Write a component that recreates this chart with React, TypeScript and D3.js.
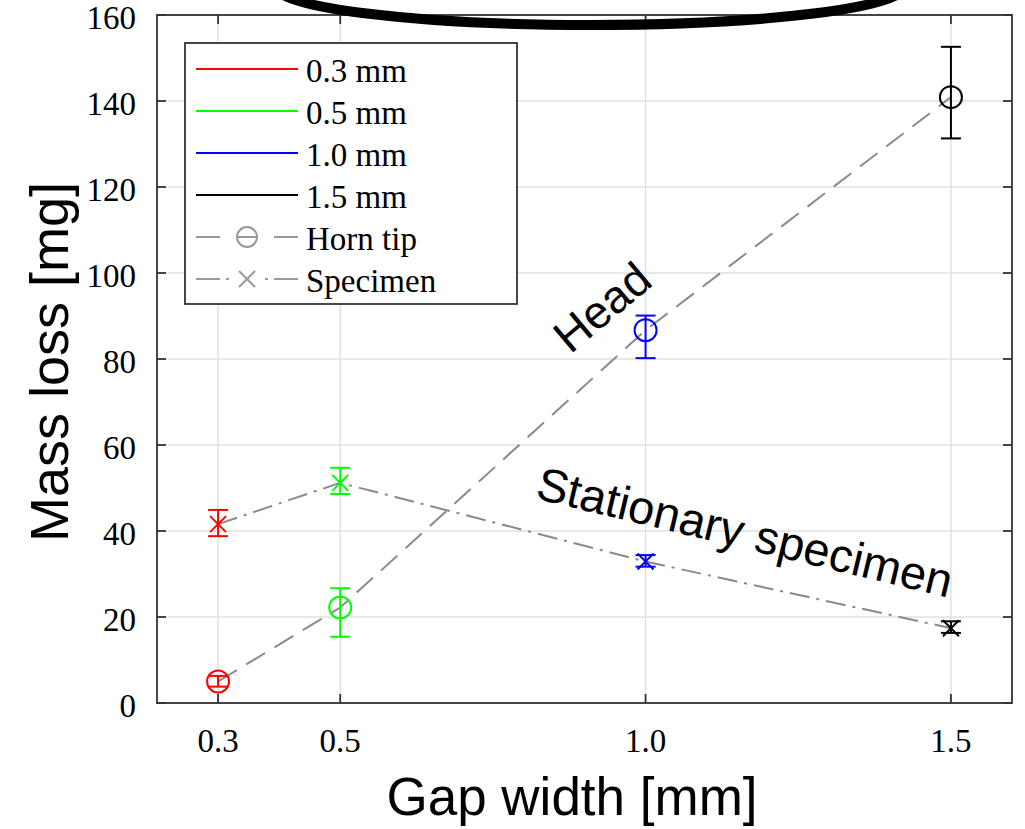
import React from 'react'
import * as d3 from 'd3'

// gap widths and the colour used for each one
const gaps = [0.3, 0.5, 1.0, 1.5]
const gapLabels = ['0.3', '0.5', '1.0', '1.5']
const gapColors = ['#ff0000', '#00ff00', '#0000ff', '#000000']

// horn tip (circles, dashed line)
const hornMean = [5.0, 22.2, 86.7, 140.9]
const hornLow = [3.8, 15.4, 80.2, 131.3]
const hornHigh = [6.3, 26.7, 90.1, 152.6]

// specimen (crosses, dash-dot line)
const specMean = [41.6, 51.2, 32.9, 17.4]
const specLow = [38.8, 48.6, 31.7, 16.3]
const specHigh = [44.9, 54.7, 34.4, 19.0]

const yTicks = [0, 20, 40, 60, 80, 100, 120, 140, 160]
const legendLabels = ['0.3 mm', '0.5 mm', '1.0 mm', '1.5 mm', 'Horn tip', 'Specimen']

const layout = {width: 1025, height: 829, left: 157, right: 1012, top: 15, bottom: 703}

const serif = "'Liberation Serif', 'Times New Roman', serif"
const sans = "'Liberation Sans', Arial, sans-serif"

export default function App() {
	const x = d3.scaleLinear().domain([0.2, 1.6]).range([layout.left, layout.right])
	const y = d3.scaleLinear().domain([0, 160]).range([layout.bottom, layout.top])

	const line = d3.line<number>()
		.x((d, i) => x(gaps[i]))
		.y(d => y(d))

	const frame = '#333'
	const grid = '#e0e0e0'
	const lineGray = '#8a8a8a'
	const legGray = '#999'
	const cap = 10
	const tickLen = 9

	// legend geometry
	const leg = {x: 185, y: 43, w: 332, h: 261, row0: 69, step: 42, lx0: 196, lx1: 298, tx: 306}

	return (
		<svg width={layout.width} height={layout.height} style={{position: 'absolute', left: 0, top: 0, background: '#fff'}}>
			{/* grid */}
			<g stroke={grid} strokeWidth={1.5}>
				{gaps.map((g, i) => <line key={'gx' + i} x1={x(g)} x2={x(g)} y1={layout.top} y2={layout.bottom} />)}
				{yTicks.map((t, i) => <line key={'gy' + i} x1={layout.left} x2={layout.right} y1={y(t)} y2={y(t)} />)}
			</g>

			{/* connecting lines */}
			<path d={line(hornMean) || ''} fill='none' stroke={lineGray} strokeWidth={2} strokeDasharray='22,11' />
			<path d={line(specMean) || ''} fill='none' stroke={lineGray} strokeWidth={2} strokeDasharray='20,7,3,7' />

			{/* horn tip markers with error bars */}
			{gaps.map((g, i) => (
				<g key={'h' + i} stroke={gapColors[i]} strokeWidth={2} fill='none'>
					<line x1={x(g)} x2={x(g)} y1={y(hornLow[i])} y2={y(hornHigh[i])} />
					<line x1={x(g) - cap} x2={x(g) + cap} y1={y(hornLow[i])} y2={y(hornLow[i])} />
					<line x1={x(g) - cap} x2={x(g) + cap} y1={y(hornHigh[i])} y2={y(hornHigh[i])} />
					<circle cx={x(g)} cy={y(hornMean[i])} r={11} />
				</g>
			))}

			{/* specimen markers with error bars */}
			{gaps.map((g, i) => {
				const cx = x(g), cy = y(specMean[i]), s = 8
				return (
					<g key={'s' + i} stroke={gapColors[i]} strokeWidth={2} fill='none'>
						<line x1={cx} x2={cx} y1={y(specLow[i])} y2={y(specHigh[i])} />
						<line x1={cx - cap} x2={cx + cap} y1={y(specLow[i])} y2={y(specLow[i])} />
						<line x1={cx - cap} x2={cx + cap} y1={y(specHigh[i])} y2={y(specHigh[i])} />
						<line x1={cx - s} x2={cx + s} y1={cy - s} y2={cy + s} />
						<line x1={cx - s} x2={cx + s} y1={cy + s} y2={cy - s} />
					</g>
				)
			})}

			{/* frame and inward ticks */}
			<rect x={layout.left} y={layout.top} width={layout.right - layout.left} height={layout.bottom - layout.top}
				fill='none' stroke={frame} strokeWidth={1.8} />
			<g stroke={frame} strokeWidth={1.8}>
				{gaps.map((g, i) => (
					<g key={'tx' + i}>
						<line x1={x(g)} x2={x(g)} y1={layout.bottom} y2={layout.bottom - tickLen} />
						<line x1={x(g)} x2={x(g)} y1={layout.top} y2={layout.top + tickLen} />
					</g>
				))}
				{yTicks.map((t, i) => (
					<g key={'ty' + i}>
						<line x1={layout.left} x2={layout.left + tickLen} y1={y(t)} y2={y(t)} />
						<line x1={layout.right} x2={layout.right - tickLen} y1={y(t)} y2={y(t)} />
					</g>
				))}
			</g>

			{/* tick labels */}
			<g fontFamily={serif} fontSize={33} fill='#000'>
				{gaps.map((g, i) => (
					<text key={'lx' + i} x={x(g)} y={752} textAnchor='middle'>{gapLabels[i]}</text>
				))}
				{yTicks.map((t, i) => (
					<text key={'ly' + i} x={136} y={y(t) + 3} textAnchor='end' dominantBaseline='central'>{t}</text>
				))}
			</g>

			{/* axis titles */}
			<text x={572} y={815} textAnchor='middle' fontFamily={sans} fontSize={53}>Gap width [mm]</text>
			<text transform='translate(68,362) rotate(-90)' textAnchor='middle' fontFamily={sans} fontSize={54}>Mass loss [mg]</text>

			{/* legend */}
			<rect x={leg.x} y={leg.y} width={leg.w} height={leg.h} fill='#fff' stroke={frame} strokeWidth={1.8} />
			{legendLabels.map((lab, i) => {
				const ly = leg.row0 + leg.step * i
				const mid = (leg.lx0 + leg.lx1) / 2
				let sample
				if (i < 4) {
					sample = <line x1={leg.lx0} x2={leg.lx1} y1={ly} y2={ly} stroke={gapColors[i]} strokeWidth={2} />
				} else if (i === 4) {
					sample = (
						<g stroke={legGray} strokeWidth={2} fill='none'>
							<line x1={leg.lx0} x2={leg.lx1} y1={ly} y2={ly} strokeDasharray='24,54' />
							<circle cx={mid} cy={ly} r={10} />
							<line x1={mid - 10} x2={mid + 10} y1={ly} y2={ly} />
						</g>
					)
				} else {
					sample = (
						<g stroke={legGray} strokeWidth={2} fill='none'>
							<line x1={leg.lx0} x2={leg.lx1} y1={ly} y2={ly} strokeDasharray='24,6,3,36,3,6,24' />
							<line x1={mid - 8} x2={mid + 8} y1={ly - 8} y2={ly + 8} />
							<line x1={mid - 8} x2={mid + 8} y1={ly + 8} y2={ly - 8} />
						</g>
					)
				}
				return (
					<g key={'leg' + i}>
						{sample}
						<text x={leg.tx} y={ly + 2} dominantBaseline='central' fontFamily={serif} fontSize={33}>{lab}</text>
					</g>
				)
			})}

			{/* annotations */}
			<text transform='translate(602,307) rotate(-40)' textAnchor='middle' dy='0.35em' fontFamily={sans} fontSize={46}>Head</text>
			<text transform='translate(745,532) rotate(13.5)' textAnchor='middle' dy='0.35em' fontFamily={sans} fontSize={47}>Stationary specimen</text>

			{/* ring at the top edge */}
			<ellipse cx={590} cy={-14} rx={316} ry={39} fill='none' stroke='#000' strokeWidth={10} />
		</svg>
	)
}
